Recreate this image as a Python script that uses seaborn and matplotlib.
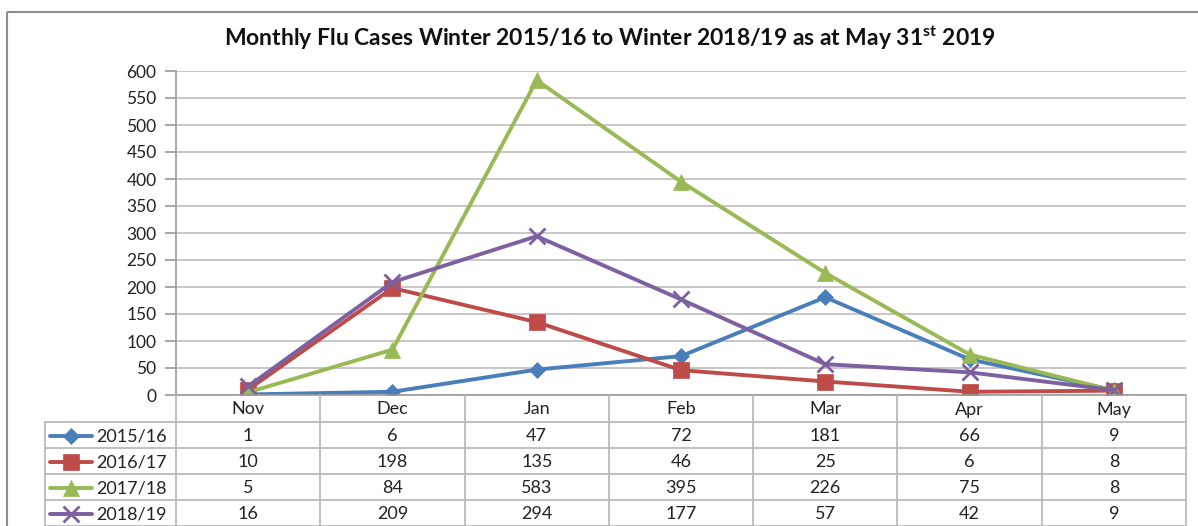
import matplotlib
matplotlib.use("Agg")
import matplotlib.pyplot as plt
from matplotlib.patches import Rectangle
import seaborn as sns
import pandas as pd

months = ["Nov", "Dec", "Jan", "Feb", "Mar", "Apr", "May"]
s2015 = [1, 6, 47, 72, 181, 66, 9]
s2016 = [10, 198, 135, 46, 25, 6, 8]
s2017 = [5, 84, 583, 395, 226, 75, 8]
s2018 = [16, 209, 294, 177, 57, 42, 9]
series_names = ["2015/16", "2016/17", "2017/18", "2018/19"]
yticks = list(range(0, 601, 50))
title = "Monthly Flu Cases Winter 2015/16 to Winter 2018/19 as at May 31$^{\\mathbf{st}}$ 2019"

colors = ["#4A7EBB", "#BE4B48", "#98B954", "#7D60A0"]
markers = ["D", "s", "^", "x"]
msizes = [8, 11, 11, 11]

sns.set_theme(style="white")
plt.rcParams["font.family"] = ["Lato", "DejaVu Sans"]
plt.rcParams["mathtext.fontset"] = "custom"
plt.rcParams["mathtext.bf"] = "Lato:bold"
plt.rcParams["mathtext.rm"] = "Lato"

W, H = 1198, 526
fig = plt.figure(figsize=(W / 100, H / 100), dpi=100)

# pixel geometry
L, R, T, B = 176, 1186, 71, 395
ax = fig.add_axes([L / W, 1 - B / H, (R - L) / W, (B - T) / H])

all_series = [s2015, s2016, s2017, s2018]
rows = []
for name, vals in zip(series_names, all_series):
    for i, v in enumerate(vals):
        rows.append({"series": name, "x": i, "value": v})
df = pd.DataFrame(rows)

for k, name in enumerate(series_names):
    sub = df[df["series"] == name]
    sns.lineplot(data=sub, x="x", y="value", ax=ax, color=colors[k], linewidth=2.8,
                 marker=markers[k], markersize=msizes[k],
                 markeredgewidth=(2 if markers[k] == "x" else 0.5),
                 markeredgecolor=colors[k], legend=False, zorder=3 + k)

ax.set_xlim(-0.5, len(months) - 0.5)
ax.set_ylim(0, 600)
ax.set_yticks(yticks)
ax.set_yticklabels([str(t) for t in yticks], fontsize=12.5, color="#222222")
ax.set_xticks([])
ax.set_xlabel("")
ax.set_ylabel("")
ax.grid(axis="y", color="#bdbdbd", linewidth=1.2)
ax.grid(axis="x", visible=False)
for sp in ["top", "right", "bottom"]:
    ax.spines[sp].set_visible(False)
ax.spines["left"].set_color("#9a9a9a")
ax.spines["left"].set_linewidth(1.2)
ax.tick_params(axis="y", length=8, width=1.2, color="#9a9a9a", left=True, pad=6)
ax.set_axisbelow(True)

# overlay in pixel coords for frame and table
ov = fig.add_axes([0, 0, 1, 1], zorder=-1)
ov.set_xlim(0, W)
ov.set_ylim(H, 0)
ov.axis("off")
ov.patch.set_alpha(0)
ov.add_patch(Rectangle((7, 12), W + 10, H, fill=False, edgecolor="#8c8c8c", linewidth=1.5))

ov2 = fig.add_axes([0, 0, 1, 1], zorder=5)
ov2.set_xlim(0, W)
ov2.set_ylim(H, 0)
ov2.axis("off")
ov2.patch.set_alpha(0)

fig.text(0.509, 1 - 38 / H, title, ha="center", va="center", fontsize=16.5, fontweight="bold", color="#111111")

colw = (R - L) / len(months)
row_edges = [B, 422, 448, 474, 500, 526]
tcol = "#b5b5b5"
lw = 1.2
fs = 13
for y in row_edges[1:]:
    ov2.plot([45, R], [y, y], color=tcol, lw=lw)
ov2.plot([L, R], [B, B], color="#9a9a9a", lw=lw, zorder=1)
for k in range(len(months) + 1):
    x = L + k * colw
    ov2.plot([x, x], [B, H], color=tcol, lw=lw)
ov2.plot([45, 45], [422, H], color=tcol, lw=lw)

for i, m in enumerate(months):
    ov2.text(L + (i + 0.5) * colw, (B + 422) / 2 + 1, m, ha="center", va="center", fontsize=fs, color="#222222")
for r, (name, vals) in enumerate(zip(series_names, all_series)):
    yc = (row_edges[r + 1] + row_edges[r + 2]) / 2 + 1
    ov2.plot([50, 92], [yc, yc], color=colors[r], lw=2.8)
    ov2.plot([71], [yc], marker=markers[r], markersize=msizes[r], color=colors[r],
             markeredgewidth=(2 if markers[r] == "x" else 0.5), markeredgecolor=colors[r])
    ov2.text(96, yc, name, ha="left", va="center", fontsize=fs, color="#222222")
    for i, v in enumerate(vals):
        ov2.text(L + (i + 0.5) * colw, yc, str(v), ha="center", va="center", fontsize=fs, color="#222222")

fig.savefig("out.png", dpi=100, facecolor="white")
